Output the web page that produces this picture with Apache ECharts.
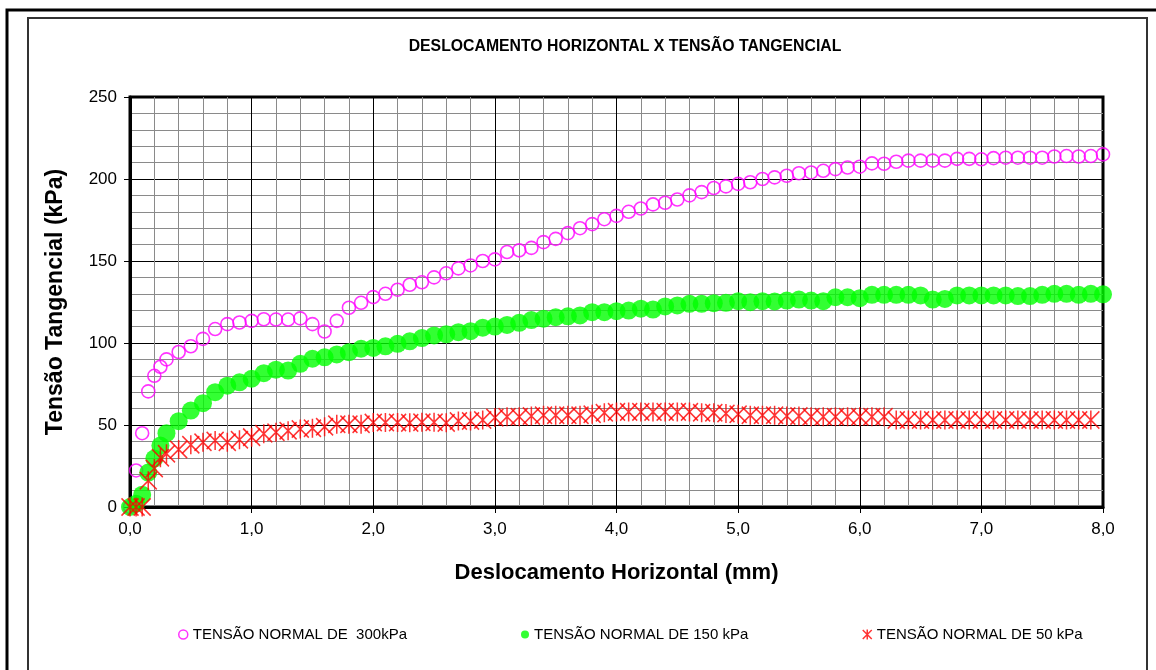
<!DOCTYPE html>
<html>
<head>
<meta charset="utf-8">
<script src="https://cdn.jsdelivr.net/npm/echarts@6/dist/echarts.min.js"></script>
<style>
  html, body { margin: 0; padding: 0; background: #ffffff; }
  #chart { width: 1156px; height: 670px; }
</style>
</head>
<body>
<div id="chart"></div>
<script>
// Horizontal displacement (mm) of each reading
const deslocamento = [
  0, 0.05, 0.1, 0.15, 0.2, 0.25, 0.3,
  0.4, 0.5, 0.6, 0.7, 0.8, 0.9, 1.0,
  1.1, 1.2, 1.3, 1.4, 1.5, 1.6, 1.7, 1.8, 1.9, 2.0,
  2.1, 2.2, 2.3, 2.4, 2.5, 2.6, 2.7, 2.8, 2.9, 3.0,
  3.1, 3.2, 3.3, 3.4, 3.5, 3.6, 3.7, 3.8, 3.9, 4.0,
  4.1, 4.2, 4.3, 4.4, 4.5, 4.6, 4.7, 4.8, 4.9, 5.0,
  5.1, 5.2, 5.3, 5.4, 5.5, 5.6, 5.7, 5.8, 5.9, 6.0,
  6.1, 6.2, 6.3, 6.4, 6.5, 6.6, 6.7, 6.8, 6.9, 7.0,
  7.1, 7.2, 7.3, 7.4, 7.5, 7.6, 7.7, 7.8, 7.9, 8.0
];

// Shear stress (kPa) under normal stress of 300 kPa
const tensao300 = [
  0, 22.3, 45, 70.5, 80, 85.5, 90,
  94.5, 98, 102.5, 108.5, 111.5, 112.5, 113.5,
  114.5, 114.3, 114.3, 115, 111.5, 107, 113.5, 121.5, 124.5, 128,
  130, 132.5, 135.5, 137, 140, 142.5, 145.5, 147.3, 150, 151,
  155.5, 156.5, 158, 161.5, 163.5, 167, 170, 172.5, 175.5, 177.5,
  180, 182, 184.5, 185.5, 187.5, 190, 192, 194.5, 195.5, 197,
  198, 200, 201, 202, 203.5, 204, 205, 206, 207, 207.5,
  209.5, 209.3, 210.5, 211.2, 211.2, 211.2, 211.2, 212.3, 212.3, 212,
  212.7, 213, 213, 213, 213, 213.7, 214, 213.7, 214, 215
];

// Shear stress (kPa) under normal stress of 150 kPa
const tensao150 = [
  0, 2, 7.5, 21, 29.5, 37.5, 45,
  52.3, 58.8, 63.3, 70, 74, 76, 78.2,
  81.6, 83.7, 83.2, 87.3, 90.4, 91.3, 93, 94.4, 96.5, 97,
  98, 99.5, 101, 103, 104.6, 105.3, 106.6, 107.2, 109.3, 110,
  111, 112.3, 114, 114.8, 115.7, 116.3, 116.8, 118.8, 118.8, 119.4,
  119.8, 120.9, 120.4, 122.3, 122.9, 123.9, 123.9, 124.3, 124.5, 125.5,
  124.9, 125.5, 125.3, 125.9, 126.5, 125.9, 125.5, 127.9, 127.9, 127.3,
  129.4, 129.4, 129.4, 129.4, 129, 126.5, 126.9, 129, 129, 129,
  129, 129, 128.6, 128.6, 129.4, 130, 130, 129.4, 130, 129.7
];

// Shear stress (kPa) under normal stress of 50 kPa (last reading at 7.9 mm)
const tensao50 = [
  0, 0, 0, 16, 23.5, 30, 32.5,
  35, 38, 39.5, 40.5, 39.5, 41, 42.6,
  44.6, 45.6, 46.5, 47.5, 48, 49, 50.5, 50.5, 50.5, 51.5,
  51.5, 51.5, 51.3, 51.7, 51.7, 51.3, 52.5, 52.5, 53, 54.5,
  55, 55, 55.5, 56, 56, 56, 56, 56.5, 57.5, 58,
  58, 58, 58, 58, 58, 58, 57.5, 57.5, 57, 56.5,
  56, 56, 56, 55.5, 55.5, 55, 55, 55, 55, 55,
  55, 55, 53, 53, 53, 53, 53, 53, 53, 53,
  53, 53, 53, 53, 53, 53, 53, 53, 53
];

const nomes = [
  'TENSÃO NORMAL DE  300kPa',
  'TENSÃO NORMAL DE 150 kPa',
  'TENSÃO NORMAL DE 50 kPa'
];

const xTicks = ['0,0', '1,0', '2,0', '3,0', '4,0', '5,0', '6,0', '7,0', '8,0'];
const yTicks = ['0', '50', '100', '150', '200', '250'];

const pares = (ys) => ys.map((y, i) => [deslocamento[i], y]);

// Asterisk marker: an X crossed by a vertical stroke
const asterisco = 'path://M0,0L2,2M2,0L0,2M1,-0.1L1,2.1';

const FONT = 'Liberation Sans, Arial, sans-serif';

const chart = echarts.init(document.getElementById('chart'), null, { renderer: 'canvas' });

chart.setOption({
  animation: false,
  backgroundColor: '#ffffff',
  title: {
    text: 'DESLOCAMENTO HORIZONTAL X TENSÃO TANGENCIAL',
    left: 620,
    top: 34,
    textAlign: 'center',
    textStyle: { fontFamily: FONT, fontSize: 15.8, fontWeight: 'bold', color: '#000' }
  },
  graphic: [
    { type: 'rect', silent: true, z: 100,
      shape: { x: 7, y: 10, width: 1160, height: 700 },
      style: { fill: 'none', stroke: '#000', lineWidth: 3 } },
    { type: 'rect', silent: true, z: 100,
      shape: { x: 28, y: 18, width: 1119, height: 700 },
      style: { fill: 'none', stroke: '#333', lineWidth: 2 } }
  ],
  legend: [
    { data: [{ name: nomes[0], icon: 'circle',
               itemStyle: { color: 'rgba(0,0,0,0)', borderColor: '#FF00FF', borderWidth: 1.5 } }],
      left: 173, top: 622, itemWidth: 9, itemHeight: 9, selectedMode: false,
      textStyle: { fontFamily: FONT, fontSize: 15, color: '#000' } },
    { data: [{ name: nomes[1], icon: 'circle',
               itemStyle: { color: '#00FF00', borderWidth: 0 } }],
      left: 516, top: 622, itemWidth: 8, itemHeight: 10, selectedMode: false,
      textStyle: { fontFamily: FONT, fontSize: 15, color: '#000' } },
    { data: [{ name: nomes[2], icon: asterisco,
               itemStyle: { color: 'rgba(0,0,0,0)', borderColor: '#FF0000', borderWidth: 1.5 } }],
      left: 857, top: 622, itemWidth: 9, itemHeight: 11, selectedMode: false,
      textStyle: { fontFamily: FONT, fontSize: 15, color: '#000' } }
  ],
  grid: {
    left: 130, right: 53, top: 97, bottom: 163,
    show: true, borderColor: '#000', borderWidth: 3, backgroundColor: '#fff'
  },
  xAxis: {
    type: 'value', min: 0, max: 8, interval: 1,
    name: 'Deslocamento Horizontal (mm)',
    nameLocation: 'middle', nameGap: 55,
    nameTextStyle: { fontFamily: FONT, fontSize: 22, fontWeight: 'bold', color: '#000' },
    axisLine: { show: true, onZero: false, lineStyle: { color: '#000', width: 3 } },
    axisTick: { show: true, length: 6, lineStyle: { color: '#000', width: 1 } },
    axisLabel: { fontFamily: FONT, fontSize: 17, color: '#000', margin: 14,
                 formatter: (v) => xTicks[Math.round(v)] },
    splitLine: { show: true, lineStyle: { color: '#000', width: 1 } },
    minorTick: { show: false, splitNumber: 5 },
    minorSplitLine: { show: true, lineStyle: { color: '#8a8a8a', width: 1 } }
  },
  yAxis: {
    type: 'value', min: 0, max: 250, interval: 50,
    name: 'Tensão Tangencial (kPa)',
    nameLocation: 'middle', nameGap: 63,
    nameTextStyle: { fontFamily: FONT, fontSize: 23, fontWeight: 'bold', color: '#000' },
    axisLine: { show: true, onZero: false, lineStyle: { color: '#000', width: 3 } },
    axisTick: { show: true, length: 6, lineStyle: { color: '#000', width: 1 } },
    axisLabel: { fontFamily: FONT, fontSize: 17, color: '#000', margin: 13,
                 formatter: (v) => yTicks[Math.round(v / 50)] },
    splitLine: { show: true, lineStyle: { color: '#000', width: 1 } },
    minorTick: { show: false, splitNumber: 5 },
    minorSplitLine: { show: true, lineStyle: { color: '#8a8a8a', width: 1 } }
  },
  series: [
    { name: nomes[0], type: 'scatter', data: pares(tensao300),
      symbol: 'circle', symbolSize: 13,
      itemStyle: { color: 'rgba(0,0,0,0)', borderColor: '#FF00FF', borderWidth: 1.6 },
      emphasis: { disabled: true }, silent: true },
    { name: nomes[1], type: 'scatter', data: pares(tensao150),
      symbol: 'circle', symbolSize: 18,
      itemStyle: { color: '#00FF00' },
      emphasis: { disabled: true }, silent: true },
    { name: nomes[2], type: 'scatter', data: pares(tensao50),
      symbol: asterisco, symbolSize: [17, 19],
      itemStyle: { color: 'rgba(0,0,0,0)', borderColor: '#FF0000', borderWidth: 1.6 },
      emphasis: { disabled: true }, silent: true }
  ]
});
</script>
</body>
</html>
